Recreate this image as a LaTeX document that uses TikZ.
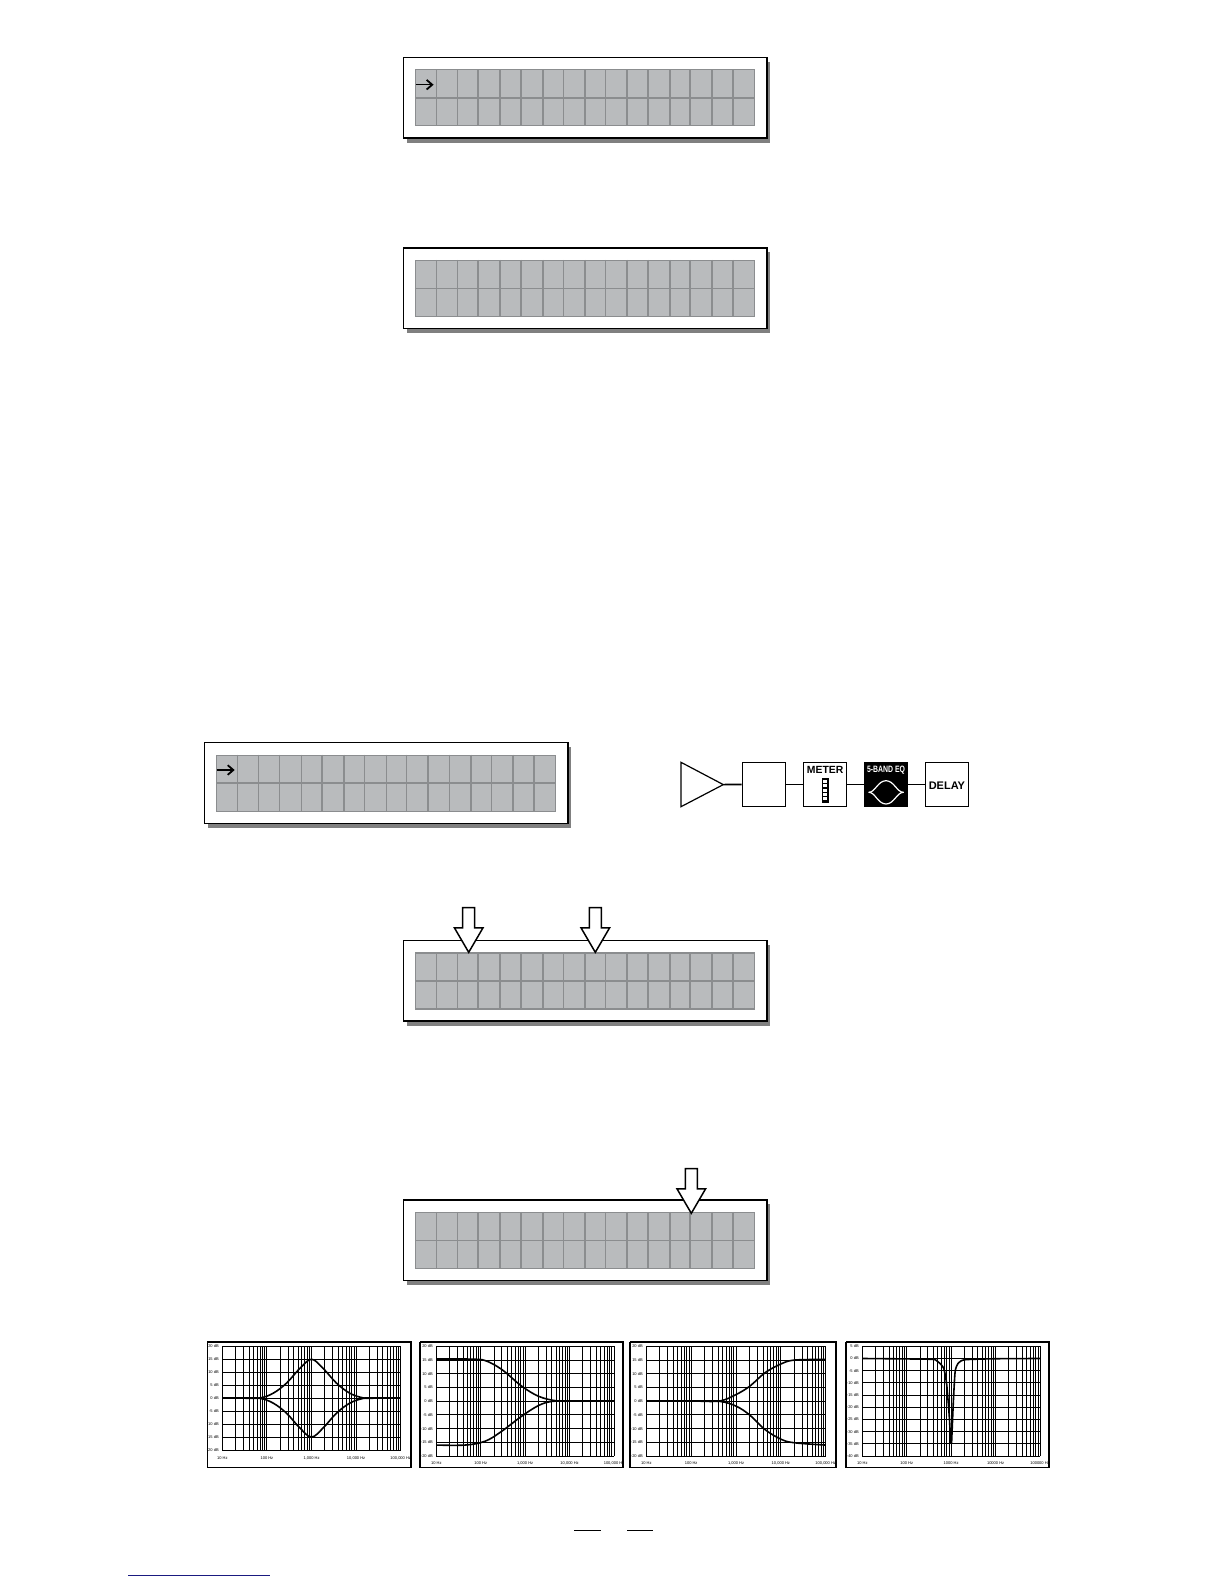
\documentclass[tikz,border=0pt]{standalone}
\usepackage{fontspec}
\setmainfont{Liberation Sans}
\usetikzlibrary{arrows.meta}
\definecolor{lcdfill}{HTML}{B9BBBD}
\definecolor{lcdline}{HTML}{8B8D8F}
\definecolor{shadowgrey}{HTML}{808080}
\definecolor{linkblue}{HTML}{1A1A80}
\tikzset{
  x=0.5pt,y=-0.5pt,
  lcdframe/.style={draw=black,fill=white,line width=0.7pt,minimum width=181.6pt,minimum height=40.3pt,inner sep=0pt,anchor=north west},
  lcdshadow/.style={fill=shadowgrey,draw=none},
  lcdcells/.style={draw=lcdline,fill=lcdfill,line width=0.55pt,minimum width=169.65pt,minimum height=28pt,inner sep=0pt,anchor=north west},
  lcdrule/.style={draw=lcdline,line width=0.75pt},
  cursor/.style={draw=black,line width=0.55pt,-{Straight Barb[length=2.8pt,width=4.8pt,line width=0.9pt]}},
  pointer/.style={draw=black,fill=white,line width=0.75pt,line join=miter},
  block/.style={draw=black,fill=white,line width=0.6pt,minimum width=21.7pt,minimum height=21.8pt,inner sep=0pt},
  blacktext/.style={font=\fontsize{5.2}{6}\selectfont\bfseries,inner sep=0pt},
  link/.style={draw=black,line width=0.85pt},
  plotframe/.style={draw=black,line width=0.55pt},
  plotedge/.style={draw=black,line width=1.1pt},
  gridline/.style={draw=black,line width=0.48pt},
  curve/.style={draw=black,line width=0.8pt,line join=round},
  flatline/.style={draw=black,line width=1.3pt},
  ticktext/.style={font=\fontsize{2}{2.2}\selectfont,inner sep=0pt,text=black},
}
% name, left, top
\newcommand\lcdpanel[3]{%
  \fill[lcdshadow] (#2+4,#3+5) rectangle (#2+367.2,#3+86);
  \node[lcdframe] (#1) at (#2,#3) {};
  \node[lcdcells] (#1cells) at (#2+12,#3+12.6) {};
  \foreach \cx in {21.7,42.7,63.3,85.3,106,128,148.7,170.3,190.7,212,233.3,255,275.3,297,318}
    \draw[lcdrule] ([xshift=\cx*0.5pt]#1cells.north west) -- ([xshift=\cx*0.5pt]#1cells.south west);
  \draw[lcdrule] (#1cells.west) -- (#1cells.east);
}
% tip x, tip y
\newcommand\downpointer[2]{%
  \draw[pointer] (#1,#2) -- (#1-14.3,#2-24.5) -- (#1-6,#2-24.5) -- (#1-6,#2-44.6)
    -- (#1+6,#2-44.6) -- (#1+6,#2-24.5) -- (#1+14.3,#2-24.5) -- cycle;
}
% frame x0 y0 x1 y1
\newcommand\plotbox[4]{%
  \fill[white] (#1,#2) rectangle (#3,#4);
  \draw[plotframe] (#1,#2) rectangle (#3,#4);
  \draw[plotedge] (#1,#2) -- (#3,#2) -- (#3,#4);
}
% id, px0, px1, ptop, pbot, dbtop, dbbot
\newcommand\plotsetup[7]{%
  \def\plotid{#1}\def\dbtop{#6}\def\dbbot{#7}%
  \pgfmathsetlengthmacro\plotdx{(#3-#2)/4*0.5pt}%
  \pgfmathsetlengthmacro\plotdy{(#5-#4)/(#6-(#7))*0.5pt}%
  \pgfmathsetmacro\plotzero{#4+(#6)/(#6-(#7))*(#5-#4)}%
  \tikzset{plotarea/.style={shift={(#2,\plotzero)},x=\plotdx,y=\plotdy}}%
}
% y labels list, x label list
\newcommand\plotgrid[3]{%
  \foreach \dc in {0,1,2,3}
    \foreach \mm in {1,...,9}{
      \pgfmathsetmacro\xx{\dc+log10(\mm)}
      \draw[gridline] (\xx,\dbbot) -- (\xx,\dbtop);
    }
  \draw[gridline] (4,\dbbot) -- (4,\dbtop);
  \foreach \db/\txt in {#1}{
    \draw[gridline] (0,\db) -- (4,\db);
    \node[ticktext,anchor=east,xshift=-1.6pt] (\plotid y\db) at (0,\db) {\txt};
  }
  \foreach \dc/\txt in {#2}{
    \node[ticktext,anchor=north,yshift=-#3pt] (\plotid x\dc) at (\dc,\dbbot) {\txt};
  }
}
\begin{document}
\begin{tikzpicture}
\useasboundingbox (0,0) rectangle (1224,1584);

\lcdpanel{lcdA}{402.9}{56.7}
\draw[cursor] ([xshift=0.35pt,yshift=-7.7pt]lcdAcells.north west) -- ++(18,0);
\lcdpanel{lcdB}{402.9}{247.3}
\lcdpanel{lcdC}{204}{742}
\draw[cursor] ([xshift=0.35pt,yshift=-7.7pt]lcdCcells.north west) -- ++(18,0);
\lcdpanel{lcdD}{402.9}{939.8}
\lcdpanel{lcdE}{402.9}{1199.3}

\downpointer{468.7}{952.3}
\downpointer{595.3}{952.3}
\downpointer{691.3}{1213.3}

% signal chain
\draw[draw=black,fill=white,line width=0.6pt] (681,762.3) -- (723.3,784.6) -- (681,806.7) -- cycle;
\coordinate (amptip) at (723.3,784.6);
\node[block] (gain) at (764,784.4) {};
\node[block] (meter) at (825.1,784.4) {};
\node[block,fill=black] (eq) at (886,784.4) {};
\node[block] (delay) at (946.9,784.4) {};
\node[blacktext] (metertext) at (825.1,770.4) {METER};
\node[blacktext,font=\fontsize{5.5}{6}\selectfont\bfseries] (delaytext) at (946.9,785.6) {DELAY};
\node[inner sep=0pt,font=\fontsize{4.6}{5}\selectfont\bfseries,text=white] (eqtext) at (886,770) {\scalebox{.75}[1]{5-BAND EQ}};
\draw[link] (amptip) -- (gain);
\draw[link] (gain) -- (meter);
\draw[link] (meter) -- (eq);
\draw[link] (eq) -- (delay);
% meter icon
\fill[black] (821.7,778.3) rectangle (828.7,802.7);
\foreach \cy in {780,784.4,788.8,793.2,797.4}
  \fill[white] (823.3,\cy) rectangle (827.2,\cy+3);
% eq icon
\draw[white,line width=0.6pt,line cap=round] (869,792.3) .. controls (875,792.3) and (878,780.7) .. (886,780.7) .. controls (894,780.7) and (897,792.3) .. (903.3,792.3);
\draw[white,line width=0.6pt,line cap=round] (869,792.3) .. controls (875,792.3) and (878,804) .. (886,804) .. controls (894,804) and (897,792.3) .. (903.3,792.3);

% graph 1
\plotbox{207.3}{1342.3}{411.3}{1467.7}
\plotsetup{ga}{222.3}{400.7}{1346.3}{1450}{20}{-20}
\begin{scope}[plotarea]
\plotgrid{20/20 dB,15/15 dB,10/10 dB,5/5 dB,0/0 dB,-5/-5 dB,-10/-10 dB,-15/-15 dB,-20/-20 dB}{0/10 Hz,1/100 Hz,2/{1,000 Hz},3/{10,000 Hz},4/{100,000 Hz}}{3.2}
\draw[curve] plot[smooth,tension=.6] coordinates {(.5,0) (.85,.1) (1.14,1.9) (1.44,5.8) (1.74,11.5) (2,15) (2.26,11.5) (2.56,5.8) (2.86,1.9) (3.16,.1) (3.4,0)};
\draw[curve] plot[smooth,tension=.6] coordinates {(.5,0) (.85,-.1) (1.14,-1.9) (1.44,-5.8) (1.74,-11.5) (2,-15) (2.26,-11.5) (2.56,-5.8) (2.86,-1.9) (3.16,-.1) (3.4,0)};
\draw[flatline] (0,0) -- (.8,0);
\draw[flatline] (3.2,0) -- (4,0);
\end{scope}

% graph 2
\plotbox{420}{1342.3}{623}{1467.7}
\plotsetup{gb}{436.3}{614}{1346.3}{1456}{20}{-20}
\begin{scope}[plotarea]
\plotgrid{20/20 dB,15/15 dB,10/10 dB,5/5 dB,0/0 dB,-5/-5 dB,-10/-10 dB,-15/-15 dB,-20/-20 dB}{0/10 Hz,1/100 Hz,2/{1,000 Hz},3/{10,000 Hz},4/{100,000 Hz}}{2.6}
\draw[curve] plot[smooth,tension=.6] coordinates {(0,15.4) (.8,15.3) (1.1,14.8) (1.47,11.6) (1.92,5.5) (2.3,1.8) (2.67,.2) (3,0)};
\draw[curve] plot[smooth,tension=.6] coordinates {(0,-16) (.65,-16) (1.1,-14.6) (1.47,-11) (1.92,-5.5) (2.3,-1.6) (2.6,-.1) (3,0)};
\draw[flatline] (0,15.4) -- (.7,15.4);
\draw[flatline] (2.75,0) -- (4,0);
\end{scope}

% graph 3
\plotbox{630}{1342.3}{835.7}{1467.7}
\plotsetup{gc}{646.3}{825.7}{1346.3}{1456}{20}{-20}
\begin{scope}[plotarea]
\plotgrid{20/20 dB,15/15 dB,10/10 dB,5/5 dB,0/0 dB,-5/-5 dB,-10/-10 dB,-15/-15 dB,-20/-20 dB}{0/10 Hz,1/100 Hz,2/{1,000 Hz},3/{10,000 Hz},4/{100,000 Hz}}{2.6}
\draw[curve] plot[smooth,tension=.6] coordinates {(1.2,0) (1.65,.1) (2,2.4) (2.31,5.5) (2.65,10.4) (3.02,13.7) (3.32,15) (4,15.2)};
\draw[curve] plot[smooth,tension=.6] coordinates {(1.2,0) (1.65,-.1) (2,-1.8) (2.31,-5.1) (2.65,-10.4) (3.02,-14) (3.32,-15.2) (4,-16)};
\draw[flatline] (0,0) -- (1.6,0);
\end{scope}

% graph 4
\plotbox{846}{1342.3}{1049.3}{1467.7}
\plotsetup{gd}{862.3}{1040}{1346.3}{1456}{5}{-40}
\begin{scope}[plotarea]
\plotgrid{5/5 dB,0/0 dB,-5/-5 dB,-10/-10 dB,-15/-15 dB,-20/-20 dB,-25/-25 dB,-30/-30 dB,-35/-35 dB,-40/-40 dB}{0/10 Hz,1/100 Hz,2/1000 Hz,3/10000 Hz,4/100000 Hz}{2.6}
\draw[curve] plot[smooth,tension=.35] coordinates {(0,0) (1.52,-.3) (1.68,-1) (1.83,-3.9) (1.9,-10.7) (1.96,-24.3) (1.99,-34.6)};
\draw[curve] plot[smooth,tension=.35] coordinates {(2.01,-34.6) (2.05,-17.5) (2.09,-5.3) (2.16,-1.9) (2.31,-.5) (3,-.1) (4,0)};
\draw[curve] (1.99,-34.6) -- (2.01,-34.6);
\end{scope}

% rules at the foot of the page
\coordinate (ruleAa) at (574,1530);
\coordinate (ruleAb) at (601,1530);
\coordinate (ruleBa) at (627,1530);
\coordinate (ruleBb) at (653,1530);
\coordinate (ruleCa) at (128,1575);
\coordinate (ruleCb) at (270,1575);
\draw[black,line width=0.5pt] (ruleAa) -- (ruleAb);
\draw[black,line width=0.5pt] (ruleBa) -- (ruleBb);
\draw[linkblue,line width=0.5pt] (ruleCa) -- (ruleCb);
\end{tikzpicture}
\end{document}
